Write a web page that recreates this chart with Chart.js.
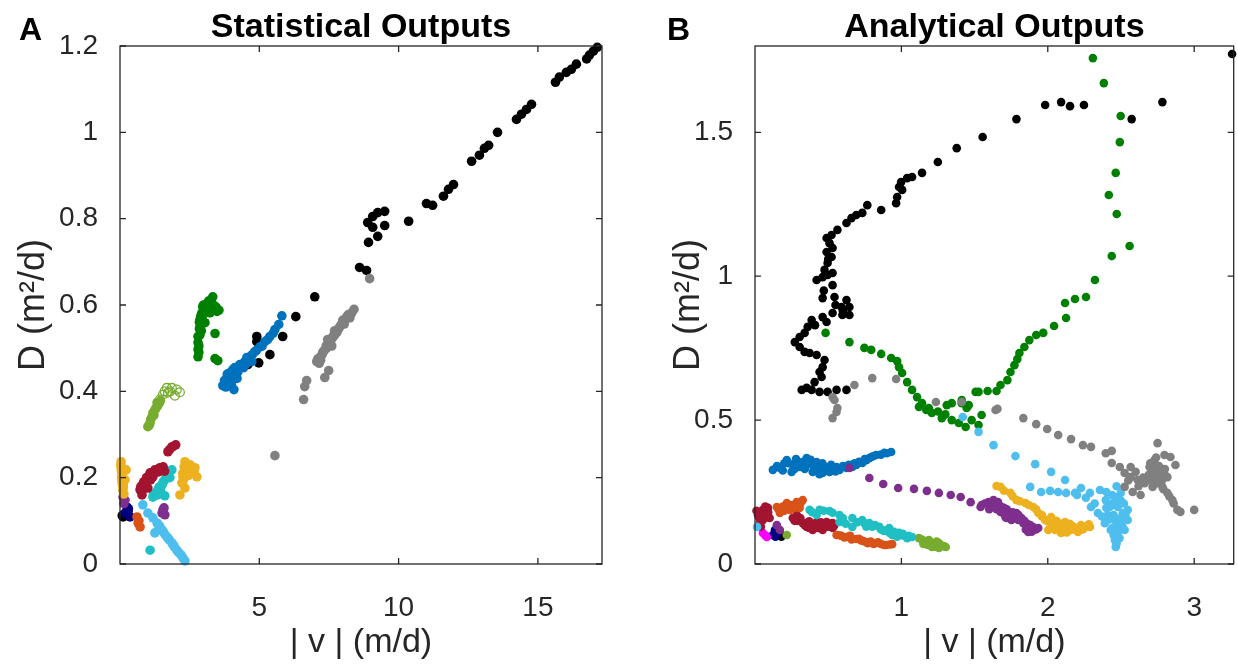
<!DOCTYPE html>
<html><head><meta charset="utf-8">
<script src="https://cdn.jsdelivr.net/npm/chart.js@4.4.1/dist/chart.umd.min.js"></script>
<style>
body{margin:0;background:#fff;width:1238px;height:668px;overflow:hidden;position:relative}
canvas{position:absolute;top:0}
#ca{left:0}
#cb{left:620px}
.pl{position:absolute;font:bold 32px 'Liberation Sans',Arial,sans-serif;line-height:32px;color:#000}
</style></head><body>
<canvas id="ca" width="620" height="668"></canvas>
<canvas id="cb" width="618" height="668"></canvas>
<div class="pl" style="left:19px;top:13px">A</div>
<div class="pl" style="left:667px;top:13px">B</div>
<script>
// ---------- Panel A : Statistical Outputs  ([|v| (m/d), D (m2/d)]) ----------
const aXTicks = [5, 10, 15];
const aYTicks = [0, 0.2, 0.4, 0.6, 0.8, 1, 1.2];
const aBlack = [[17.13,1.197],[16.99,1.188],[16.85,1.179],[16.75,1.170],[16.38,1.158],[16.20,1.146],[16.02,1.139],[15.77,1.128],[15.63,1.116],[14.77,1.065],[14.59,1.053],[14.41,1.042],[14.23,1.030],[13.55,1.000],[13.23,0.970],[13.08,0.963],[12.90,0.947],[12.62,0.933],[11.97,0.879],[11.79,0.868],[11.61,0.852],[11.22,0.831],[11.00,0.835],[10.36,0.794],[9.50,0.817],[9.25,0.814],[9.07,0.805],[8.89,0.791],[9.07,0.780],[9.50,0.784],[9.25,0.759],[8.92,0.745],[8.60,0.687],[8.85,0.680],[6.99,0.619],[6.31,0.573],[5.84,0.527],[5.38,0.485],[4.98,0.466],[4.91,0.527],[4.91,0.515],[5.09,0.508],[4.66,0.473],[4.59,0.462],[0.11,0.109],[0.08,0.112]];
const aGray = [[8.96,0.661],[8.32,0.582],[8.14,0.573],[7.99,0.561],[7.89,0.550],[7.78,0.536],[7.63,0.524],[7.53,0.513],[7.42,0.501],[7.28,0.490],[7.17,0.478],[7.06,0.469],[8.05,0.556],[7.70,0.540],[7.45,0.520],[7.35,0.496],[7.60,0.505],[7.20,0.472],[7.49,0.448],[7.35,0.432],[6.70,0.425],[6.63,0.411],[6.59,0.381],[5.56,0.251],[7.10,0.475],[7.25,0.485],[7.40,0.505],[7.55,0.518],[7.70,0.530],[7.85,0.545],[8.00,0.565],[8.20,0.578],[8.40,0.590],[8.25,0.570],[7.95,0.555],[7.65,0.528],[7.30,0.492],[7.15,0.465]];
const aBlue = [[5.81,0.575],[5.56,0.543],[5.38,0.527],[5.20,0.515],[5.02,0.503],[4.84,0.492],[4.66,0.480],[4.48,0.469],[4.30,0.462],[4.12,0.455],[3.94,0.443],[3.84,0.432],[3.69,0.413],[4.09,0.404],[4.23,0.445],[4.44,0.455],[4.01,0.427],[4.73,0.469],[4.20,0.430],[4.55,0.478],[3.90,0.420],[3.75,0.425],[3.85,0.440],[3.95,0.435],[4.05,0.450],[4.15,0.445],[4.25,0.455],[4.35,0.460],[4.50,0.462],[4.60,0.470],[4.75,0.485],[4.90,0.495],[5.10,0.505],[5.30,0.520],[5.50,0.535],[5.70,0.555],[3.80,0.410],[4.00,0.415]];
const aGreen = [[3.33,0.619],[3.15,0.606],[2.97,0.596],[3.48,0.585],[3.23,0.582],[2.94,0.582],[2.87,0.566],[3.05,0.559],[2.87,0.548],[2.80,0.527],[2.80,0.513],[2.80,0.497],[2.80,0.480],[3.41,0.534],[3.41,0.476],[3.51,0.471],[3.08,0.594],[3.30,0.601],[2.87,0.531],[3.40,0.592],[3.55,0.588],[2.92,0.540],[2.85,0.560],[2.90,0.575],[2.85,0.545],[2.83,0.505],[2.83,0.490],[3.00,0.600],[3.20,0.610],[3.35,0.600],[3.45,0.595],[3.10,0.585],[2.95,0.570]];
const aLightGreen = [[1.33,0.374],[1.25,0.357],[1.15,0.341],[1.08,0.327],[1.00,0.318],[1.18,0.350],[1.36,0.367],[1.45,0.378],[1.10,0.335],[1.30,0.362],[1.05,0.322],[1.22,0.345],[1.40,0.372]];
const aLightGreenOpen = [[1.68,0.408],[1.86,0.408],[2.04,0.404],[1.72,0.397],[1.54,0.392],[1.43,0.381],[1.97,0.390],[2.15,0.398],[1.80,0.400],[1.60,0.400]];
const aRed = [[1.86,0.271],[1.72,0.260],[2.00,0.276],[1.43,0.223],[1.25,0.218],[1.08,0.211],[0.97,0.195],[0.82,0.183],[0.72,0.172],[0.79,0.160],[1.36,0.213],[1.18,0.202],[1.00,0.176],[1.55,0.225],[1.60,0.215],[0.90,0.190],[1.10,0.195],[0.75,0.180],[0.85,0.190],[0.95,0.200],[1.05,0.205],[1.15,0.210],[1.30,0.218],[1.40,0.215],[0.80,0.170],[0.90,0.178],[1.20,0.208],[1.78,0.265],[1.90,0.272]];
const aTeal = [[1.86,0.218],[1.72,0.211],[1.61,0.195],[1.51,0.183],[1.36,0.172],[1.25,0.160],[1.18,0.155],[1.61,0.158],[1.08,0.032],[1.79,0.200],[1.45,0.170],[1.20,0.162],[1.30,0.165],[1.40,0.178],[1.55,0.190],[1.65,0.205],[1.75,0.215],[1.35,0.160]];
const aYellow = [[0.04,0.237],[0.04,0.223],[0.07,0.206],[0.07,0.190],[0.11,0.176],[0.14,0.162],[0.22,0.218],[0.18,0.195],[2.33,0.237],[2.51,0.230],[2.69,0.223],[2.76,0.202],[2.40,0.218],[2.26,0.202],[2.22,0.188],[2.33,0.176],[2.15,0.160],[2.58,0.218],[2.45,0.205],[0.03,0.230],[0.05,0.215],[0.06,0.200],[0.09,0.185],[0.10,0.170],[0.12,0.180],[2.30,0.225],[2.38,0.230],[2.55,0.225],[2.65,0.215],[2.28,0.195],[2.25,0.210]];
const aPurple = [[0.11,0.155],[0.18,0.148],[1.54,0.125],[1.61,0.114],[1.51,0.118],[0.14,0.140],[1.58,0.130]];
const aNavy = [[0.25,0.132],[0.29,0.121],[0.18,0.118],[0.36,0.109],[0.30,0.128]];
const aOrange = [[0.61,0.109],[0.65,0.095],[0.72,0.086],[0.68,0.100]];
const aCyan = [[0.82,0.137],[1.00,0.118],[1.18,0.107],[1.33,0.095],[1.51,0.079],[1.68,0.063],[1.86,0.049],[2.04,0.032],[2.19,0.021],[2.33,0.007],[1.42,0.088],[1.60,0.070],[1.77,0.056],[1.95,0.040],[2.26,0.014],[1.25,0.072],[1.38,0.090],[1.55,0.075],[1.72,0.060],[1.90,0.045],[2.10,0.027]];

// ---------- Panel B : Analytical Outputs ----------
const bXTicks = [1, 2, 3];
const bYTicks = [0, 0.5, 1, 1.5];
const bBlack = [[1.555,1.484],[1.378,1.445],[1.249,1.397],[1.141,1.359],[1.073,1.345],[1.039,1.341],[0.998,1.327],[0.984,1.310],[1.005,1.300],[0.971,1.275],[0.964,1.254],[0.862,1.230],[0.767,1.247],[0.733,1.220],[0.692,1.213],[0.659,1.202],[0.625,1.185],[0.563,1.161],[0.523,1.143],[0.489,1.133],[0.509,1.115],[0.530,1.098],[0.489,1.084],[0.523,1.067],[0.496,1.046],[0.475,1.022],[0.496,1.004],[0.530,1.011],[0.421,0.987],[0.462,0.997],[0.530,0.969],[0.462,0.924],[0.543,0.928],[0.625,0.917],[0.645,0.893],[0.591,0.893],[0.645,0.865],[0.597,0.865],[0.530,0.872],[0.462,0.858],[0.489,0.841],[0.387,0.848],[0.360,0.824],[0.339,0.803],[0.305,0.789],[0.272,0.771],[0.305,0.754],[0.339,0.737],[0.373,0.733],[0.421,0.726],[0.475,0.709],[0.462,0.684],[0.441,0.667],[0.455,0.650],[0.407,0.632],[0.353,0.612],[0.319,0.605],[0.387,0.605],[0.441,0.598],[0.496,0.598],[0.557,0.605],[0.625,0.605],[0.50,1.060],[0.47,0.950],[0.55,0.900],[0.60,0.880],[0.41,0.830],[1.786,1.546],[1.982,1.595],[2.091,1.605],[2.152,1.591],[2.247,1.595],[2.573,1.546],[2.783,1.605],[3.259,1.772],[0.170,0.108],[0.150,0.100],[0.180,0.095]];
const bGreen = [[2.308,1.758],[2.383,1.671],[2.498,1.557],[2.492,1.466],[2.464,1.359],[2.417,1.282],[2.471,1.216],[2.559,1.105],[2.437,1.070],[2.322,0.987],[2.261,0.928],[2.186,0.921],[2.118,0.907],[2.125,0.855],[2.043,0.827],[1.969,0.803],[1.921,0.796],[1.874,0.778],[1.840,0.754],[1.806,0.733],[1.792,0.712],[1.772,0.691],[1.745,0.667],[1.724,0.639],[1.677,0.622],[1.650,0.601],[1.589,0.601],[1.527,0.598],[0.482,0.803],[0.645,0.771],[0.747,0.751],[0.794,0.744],[0.862,0.730],[0.930,0.716],[0.971,0.705],[0.984,0.684],[1.005,0.664],[1.039,0.632],[1.073,0.605],[1.107,0.580],[1.141,0.559],[1.188,0.542],[1.310,0.552],[1.412,0.570],[1.507,0.598],[1.120,0.546],[1.208,0.525],[1.276,0.507],[1.344,0.500],[1.439,0.476],[1.527,0.483],[1.548,0.518],[1.344,0.559],[1.460,0.552],[1.412,0.559],[1.446,0.542],[1.392,0.490],[1.250,0.530],[1.170,0.535],[1.300,0.520],[1.480,0.500]];
const bGray = [[0.530,0.580],[0.563,0.542],[0.543,0.570],[0.557,0.528],[0.530,0.507],[0.679,0.622],[0.801,0.646],[0.964,0.643],[1.236,0.563],[1.412,0.563],[1.643,0.535],[1.656,0.539],[1.833,0.507],[1.921,0.486],[1.996,0.469],[2.071,0.448],[2.159,0.434],[2.240,0.413],[2.295,0.407],[2.396,0.385],[2.437,0.393],[2.437,0.351],[2.492,0.337],[2.525,0.316],[2.566,0.302],[2.614,0.292],[2.661,0.281],[2.702,0.292],[2.736,0.316],[2.750,0.337],[2.729,0.361],[2.750,0.420],[2.797,0.379],[2.838,0.372],[2.872,0.344],[2.770,0.302],[2.783,0.268],[2.817,0.247],[2.851,0.222],[2.885,0.188],[3.000,0.188],[2.634,0.240],[2.525,0.268],[2.566,0.337],[2.695,0.337],[2.763,0.320],[2.716,0.268],[2.817,0.302],[2.906,0.181],[2.750,0.300],[2.690,0.310],[2.800,0.330],[2.600,0.320],[2.650,0.300],[2.680,0.290],[2.720,0.300],[2.740,0.280],[2.780,0.290],[2.800,0.310],[2.760,0.340],[2.720,0.330],[2.700,0.350],[2.740,0.370],[2.790,0.260],[2.830,0.235],[2.860,0.210],[2.580,0.250],[2.620,0.270],[2.550,0.290]];
const bLightBlue = [[1.419,0.511],[1.527,0.459],[1.629,0.413],[1.779,0.375],[1.914,0.347],[2.023,0.320],[2.118,0.292],[1.880,0.268],[1.955,0.250],[2.016,0.254],[2.071,0.250],[2.125,0.247],[2.186,0.247],[2.227,0.264],[2.288,0.247],[2.356,0.257],[2.396,0.222],[2.458,0.233],[2.478,0.198],[2.424,0.198],[2.512,0.177],[2.546,0.153],[2.498,0.142],[2.458,0.153],[2.430,0.118],[2.478,0.108],[2.525,0.118],[2.458,0.083],[2.464,0.059],[2.390,0.142],[2.342,0.177],[2.295,0.198],[2.546,0.188],[2.498,0.247],[2.470,0.270],[2.500,0.220],[2.410,0.170],[0.014,0.129],[2.400,0.250],[2.440,0.240],[2.480,0.225],[2.520,0.210],[2.440,0.210],[2.400,0.195],[2.530,0.170],[2.500,0.160],[2.450,0.170],[2.420,0.155],[2.470,0.135],[2.510,0.130],[2.440,0.125],[2.490,0.090],[2.450,0.100],[2.470,0.070],[2.370,0.165],[2.320,0.210],[2.260,0.230],[2.200,0.240]];
const bPurple = [[0.645,0.334],[0.781,0.299],[0.876,0.278],[0.978,0.264],[1.086,0.261],[1.174,0.254],[1.256,0.247],[1.337,0.240],[1.405,0.233],[1.473,0.215],[1.541,0.198],[1.595,0.215],[1.629,0.222],[1.663,0.205],[1.677,0.181],[1.711,0.163],[1.752,0.153],[1.799,0.153],[1.833,0.142],[1.867,0.129],[1.901,0.118],[1.935,0.125],[1.867,0.111],[1.731,0.181],[1.786,0.177],[1.548,0.205],[1.600,0.190],[1.700,0.195],[1.820,0.160],[0.149,0.135],[0.170,0.118],[1.570,0.210],[1.620,0.205],[1.650,0.190],[1.680,0.200],[1.700,0.175],[1.720,0.190],[1.740,0.170],[1.760,0.165],[1.780,0.160],[1.800,0.170],[1.840,0.150],[1.860,0.140],[1.880,0.135],[1.900,0.128],[1.920,0.120],[1.850,0.120],[1.890,0.112],[1.760,0.180],[1.660,0.215],[1.720,0.160]];
const bYellow = [[1.650,0.271],[1.677,0.268],[1.745,0.247],[1.786,0.222],[1.847,0.212],[1.901,0.198],[1.935,0.177],[1.982,0.153],[2.023,0.142],[2.050,0.118],[2.071,0.129],[2.118,0.146],[2.139,0.129],[2.186,0.125],[2.227,0.135],[2.261,0.129],[2.288,0.129],[2.206,0.111],[2.091,0.108],[2.003,0.118],[2.023,0.163],[1.960,0.165],[2.160,0.118],[1.700,0.255],[1.760,0.235],[1.810,0.218],[1.870,0.205],[1.920,0.190],[1.960,0.170],[2.000,0.148],[2.040,0.135],[2.100,0.120],[2.130,0.110],[2.170,0.132],[2.200,0.125],[2.240,0.120],[2.280,0.138],[2.060,0.150],[2.090,0.140],[2.150,0.140],[2.240,0.130]];
const bBlue = [[0.122,0.327],[0.217,0.361],[0.285,0.361],[0.353,0.368],[0.421,0.354],[0.489,0.337],[0.530,0.334],[0.577,0.327],[0.625,0.334],[0.692,0.344],[0.760,0.361],[0.828,0.379],[0.883,0.386],[0.930,0.389],[0.170,0.334],[0.305,0.337],[0.394,0.320],[0.462,0.316],[0.258,0.344],[0.353,0.344],[0.441,0.344],[0.509,0.320],[0.557,0.337],[0.665,0.337],[0.733,0.351],[0.794,0.372],[0.200,0.350],[0.330,0.355],[0.420,0.330],[0.150,0.340],[0.190,0.325],[0.230,0.350],[0.270,0.330],[0.310,0.348],[0.340,0.330],[0.370,0.352],[0.400,0.340],[0.430,0.328],[0.460,0.350],[0.480,0.325],[0.520,0.345],[0.550,0.322],[0.600,0.340],[0.640,0.345],[0.680,0.350],[0.710,0.355],[0.750,0.365],[0.780,0.368],[0.810,0.375],[0.860,0.380],[0.900,0.385],[0.280,0.365],[0.380,0.362],[0.250,0.320],[0.440,0.312]];
const bRed = [[0.020,0.170],[0.054,0.188],[0.088,0.195],[0.068,0.160],[0.034,0.142],[0.088,0.170],[0.258,0.160],[0.285,0.170],[0.326,0.142],[0.353,0.129],[0.394,0.129],[0.441,0.135],[0.489,0.146],[0.530,0.142],[0.530,0.125],[0.462,0.118],[0.394,0.118],[0.353,0.142],[0.420,0.145],[0.500,0.130],[0.050,0.150],[0.030,0.160],[0.060,0.175],[0.090,0.180],[0.010,0.185],[0.070,0.200],[0.040,0.130],[0.100,0.160],[0.290,0.150],[0.310,0.160],[0.340,0.135],[0.370,0.125],[0.400,0.138],[0.430,0.125],[0.450,0.145],[0.470,0.130],[0.510,0.140],[0.540,0.132],[0.370,0.148],[0.270,0.150]];
const bOrange = [[0.149,0.198],[0.217,0.212],[0.285,0.215],[0.326,0.222],[0.170,0.177],[0.238,0.188],[0.305,0.195],[0.557,0.101],[0.625,0.094],[0.692,0.087],[0.760,0.076],[0.828,0.073],[0.896,0.066],[0.937,0.069],[0.590,0.098],[0.725,0.082],[0.860,0.070],[0.190,0.200],[0.250,0.205],[0.270,0.195],[0.200,0.185],[0.310,0.210],[0.160,0.190],[0.575,0.100],[0.610,0.092],[0.640,0.095],[0.660,0.085],[0.710,0.088],[0.740,0.080],[0.790,0.078],[0.810,0.070],[0.840,0.075],[0.880,0.066],[0.920,0.068],[0.650,0.098],[0.770,0.072]];
const bTeal = [[0.373,0.188],[0.441,0.188],[0.509,0.184],[0.577,0.170],[0.577,0.146],[0.665,0.160],[0.665,0.129],[0.733,0.153],[0.781,0.142],[0.849,0.129],[0.917,0.125],[0.984,0.108],[1.032,0.094],[1.073,0.094],[0.937,0.101],[0.421,0.170],[0.800,0.130],[0.880,0.115],[1.000,0.100],[0.390,0.180],[0.470,0.185],[0.530,0.178],[0.600,0.160],[0.620,0.140],[0.700,0.145],[0.750,0.140],[0.760,0.130],[0.820,0.135],[0.860,0.120],[0.900,0.118],[0.950,0.112],[0.960,0.100],[1.010,0.105],[1.050,0.098],[1.040,0.090],[0.970,0.095],[0.920,0.108]];
const bLightGreen = [[1.120,0.090],[1.188,0.083],[1.256,0.073],[1.303,0.059],[1.208,0.059],[1.168,0.073],[1.256,0.056],[0.217,0.101],[1.140,0.085],[1.160,0.080],[1.200,0.075],[1.220,0.068],[1.240,0.078],[1.270,0.065],[1.290,0.062],[1.180,0.066],[1.230,0.060],[1.150,0.070]];
const bMagenta = [[0.054,0.108],[0.081,0.094],[0.070,0.100]];
const bNavy = [[0.122,0.101],[0.156,0.108],[0.136,0.118],[0.140,0.095]];

const C = {black:'#000000', gray:'#808080', green:'#008000', blue:'#0072BD', lgreen:'#77AC30', yellow:'#EDB120', red:'#A2142F', teal:'#1FBFC4', cyan:'#4DBEEE', orange:'#D95319', purple:'#7E2F8E', navy:'#000080', magenta:'#FF00FF'};
const FONT = "'Liberation Sans', Arial, Helvetica, sans-serif";
const INK = '#262626';

function ds(pts, color, r, open) {
  return {data: pts.map(p => ({x: p[0], y: p[1]})), backgroundColor: open ? 'rgba(255,255,255,0)' : color,
    borderColor: color, borderWidth: open ? 1.3 : 0, pointRadius: r, pointHoverRadius: r, clip: false};
}

const frame = {
  id: 'frame',
  afterDatasetsDraw(chart) {
    const {ctx, chartArea: a, scales: {x, y}} = chart;
    ctx.save();
    ctx.strokeStyle = INK; ctx.lineWidth = 1.3;
    ctx.strokeRect(a.left, a.top, a.right - a.left, a.bottom - a.top);
    const L = 6;
    ctx.beginPath();
    x.ticks.forEach(t => { const p = x.getPixelForValue(t.value);
      ctx.moveTo(p, a.bottom); ctx.lineTo(p, a.bottom - L); ctx.moveTo(p, a.top); ctx.lineTo(p, a.top + L); });
    y.ticks.forEach(t => { const p = y.getPixelForValue(t.value);
      ctx.moveTo(a.left, p); ctx.lineTo(a.left + L, p); ctx.moveTo(a.right, p); ctx.lineTo(a.right - L, p); });
    ctx.stroke();
    ctx.restore();
  }
};

function makeChart(id, cfg) {
  return new Chart(document.getElementById(id), {
    type: 'scatter',
    data: {datasets: cfg.datasets},
    options: {
      responsive: false, animation: false, events: [],
      layout: {padding: {left: 0, right: cfg.padRight, top: 0, bottom: 0}},
      plugins: {
        legend: {display: false}, tooltip: {enabled: false},
        title: {display: true, text: cfg.title, fullSize: false, color: '#000',
          font: {family: FONT, size: 34, weight: 'bold', lineHeight: 1}, padding: {top: 11, bottom: 1}}
      },
      scales: {
        x: {type: 'linear', min: 0, max: cfg.xMax,
          afterBuildTicks: s => { s.ticks = cfg.xTicks.map(v => ({value: v})); },
          afterFit: s => { s.height = 104; },
          grid: {display: false}, border: {display: false},
          ticks: {font: {family: FONT, size: 28}, color: INK, padding: 19, maxRotation: 0, autoSkip: false, callback: v => String(v)},
          title: {display: true, text: '| v | (m/d)', color: INK, font: {family: FONT, size: 34}, padding: {top: 0, bottom: 5}}
        },
        y: {type: 'linear', min: 0, max: cfg.yMax,
          afterBuildTicks: s => { s.ticks = cfg.yTicks.map(v => ({value: v})); },
          afterFit: s => { s.width = cfg.yWidth; },
          grid: {display: false}, border: {display: false},
          ticks: {font: {family: FONT, size: 28}, color: INK, padding: 14, autoSkip: false, callback: v => String(v)},
          title: {display: true, text: 'D (m²/d)', color: INK, font: {family: FONT, size: 36}, padding: {top: cfg.yTitlePad, bottom: 0}}
        }
      }
    },
    plugins: [frame]
  });
}

makeChart('ca', {
  title: 'Statistical Outputs', xMax: 17.3, yMax: 1.2, xTicks: aXTicks, yTicks: aYTicks,
  yWidth: 120, padRight: 18, yTitlePad: 12,
  datasets: [
    ds(aGray, C.gray, 4.8), ds(aGreen, C.green, 4.8), ds(aLightGreen, C.lgreen, 4.8), ds(aLightGreenOpen, C.lgreen, 4.4, true),
    ds(aBlue, C.blue, 4.8), ds(aCyan, C.cyan, 4.8), ds(aYellow, C.yellow, 4.8), ds(aRed, C.red, 4.8), ds(aTeal, C.teal, 4.8),
    ds(aPurple, C.purple, 4.8), ds(aOrange, C.orange, 4.8), ds(aNavy, C.navy, 4.8), ds(aBlack, C.black, 4.8)
  ]
});

makeChart('cb', {
  title: 'Analytical Outputs', xMax: 3.27, yMax: 1.8, xTicks: bXTicks, yTicks: bYTicks,
  yWidth: 135, padRight: 2, yTitlePad: 47,
  datasets: [
    ds(bGray, C.gray, 4.3), ds(bLightBlue, C.cyan, 4.3), ds(bGreen, C.green, 4.3), ds(bPurple, C.purple, 4.3), ds(bYellow, C.yellow, 4.3),
    ds(bBlue, C.blue, 4.3), ds(bTeal, C.teal, 4.3), ds(bOrange, C.orange, 4.3), ds(bRed, C.red, 4.3), ds(bLightGreen, C.lgreen, 4.3),
    ds(bMagenta, C.magenta, 4.3), ds(bNavy, C.navy, 4.3), ds(bBlack, C.black, 4.3)
  ]
});
</script>
</body></html>
